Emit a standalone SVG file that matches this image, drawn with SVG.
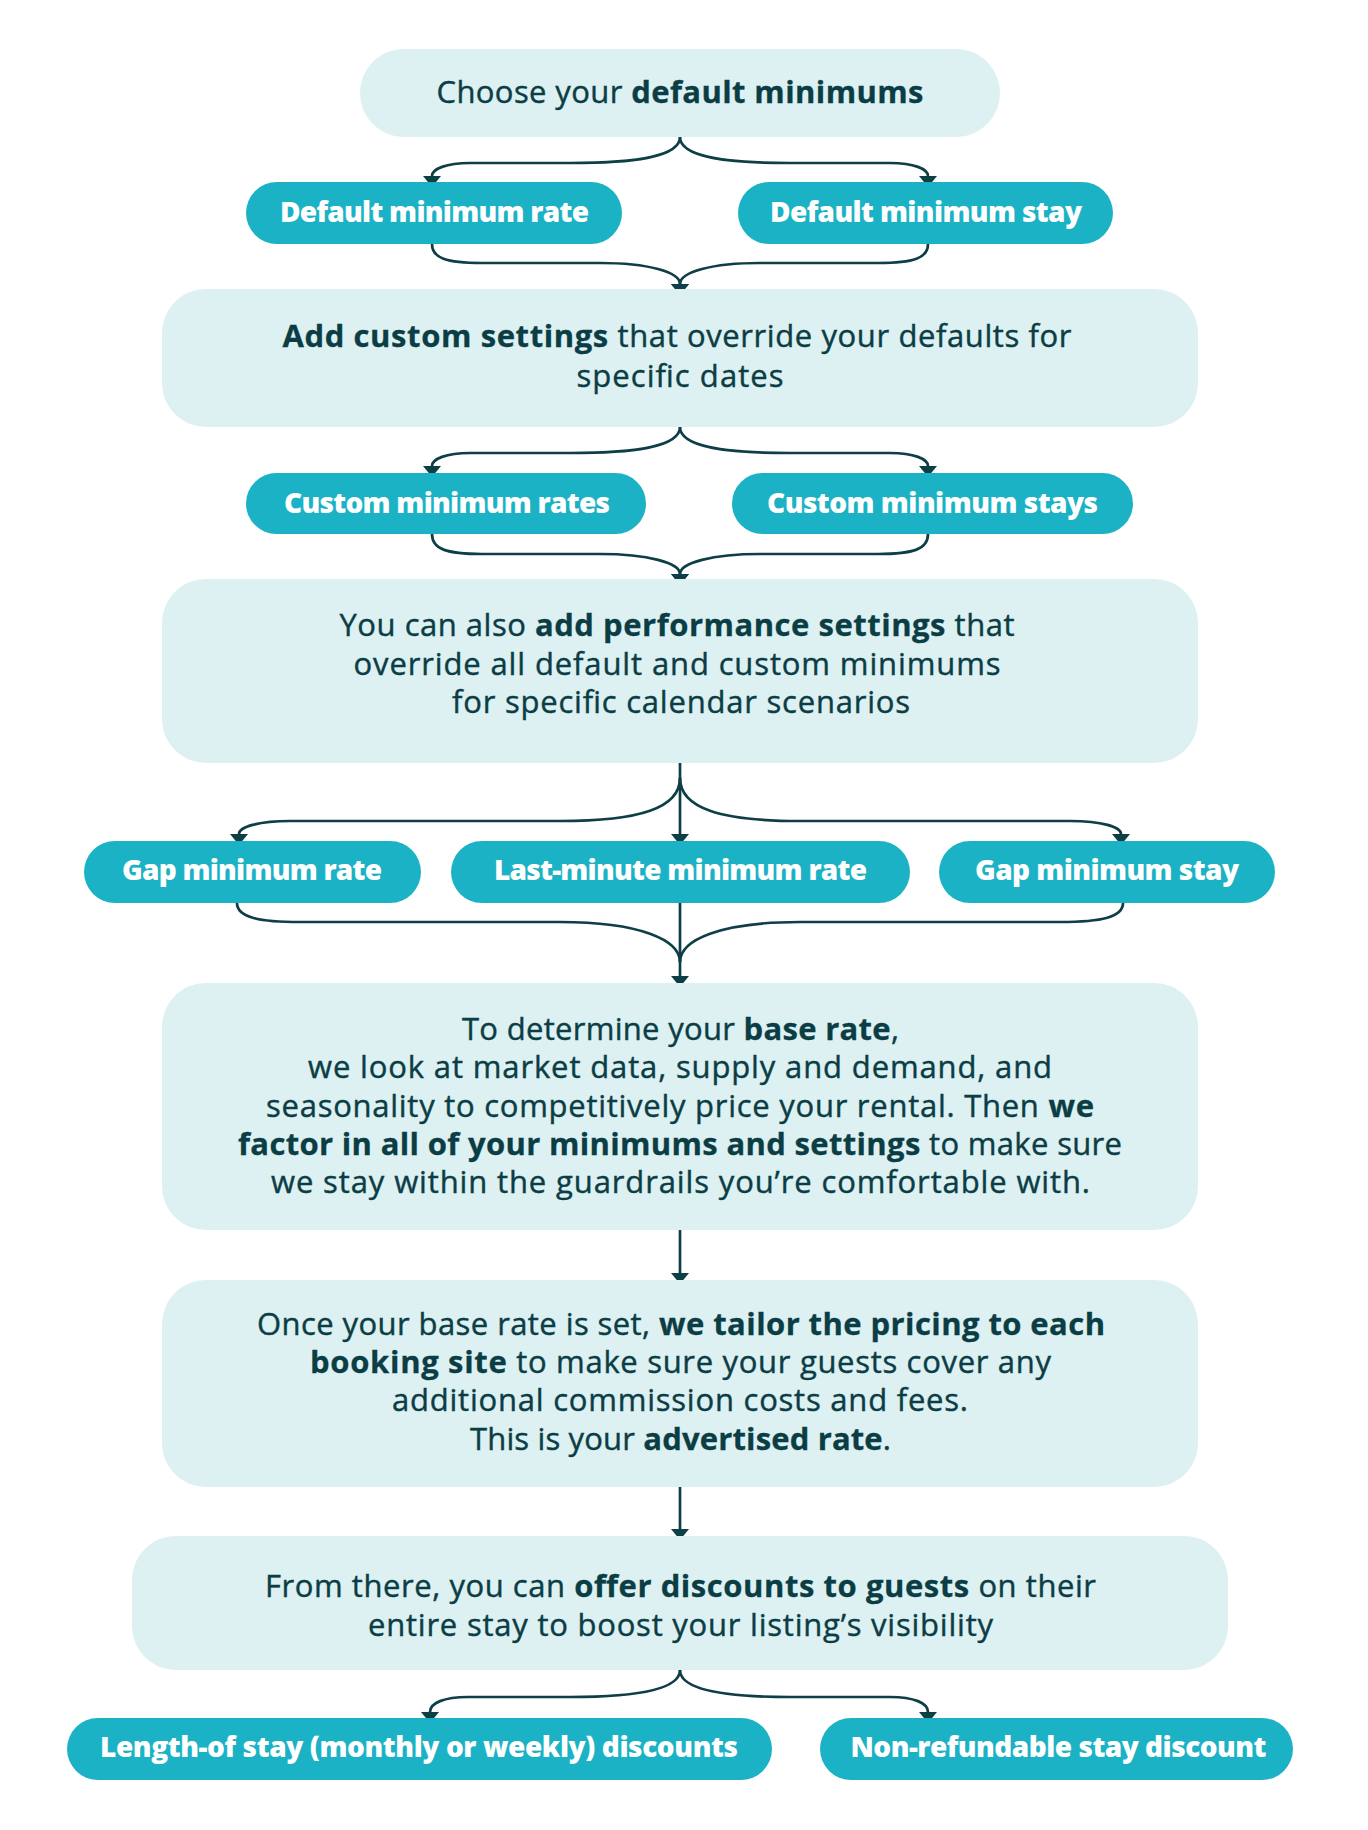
<svg xmlns="http://www.w3.org/2000/svg" width="1368" height="1830" viewBox="0 0 1368 1830">
<style>
.box{fill:#ddf0f2}
.pill{fill:#1cb2c5}
.bt{font-family:"Open Sans","Liberation Sans",sans-serif;font-size:31px;font-weight:500;fill:#0b3d45;stroke:#0b3d45;stroke-width:0.4;text-anchor:middle}
.b{font-weight:700;stroke-width:0.3}
.pt{font-family:"Open Sans","Liberation Sans",sans-serif;font-size:28px;font-weight:800;fill:#ffffff;text-anchor:middle}
.c{fill:none;stroke:#0e3f47;stroke-width:2.7}
</style>
<defs>
<marker id="ah" viewBox="0 0 11 18" refX="0" refY="9" markerUnits="userSpaceOnUse" markerWidth="11" markerHeight="18" orient="auto">
<path d="M0,0 L11,9 L0,18 Z" fill="#0e3f47"/>
</marker>
</defs>
<rect width="1368" height="1830" fill="#ffffff"/>
<g id="connectors">
<path class="c" marker-end="url(#ah)" d="M680,137 C680,158 630,163 570,163 L470,163 C446,163 432,169 432,176"/>
<path class="c" marker-end="url(#ah)" d="M680,137 C680,158 730,163 790,163 L890,163 C914,163 928,169 928,176"/>
<path class="c" marker-end="url(#ah)" d="M432,244 C432,258 446,263 482,263 L600,263 C648,263 680,272 680,284"/>
<path class="c" marker-end="url(#ah)" d="M928,244 C928,258 914,263 878,263 L760,263 C712,263 680,272 680,284"/>
<path class="c" marker-end="url(#ah)" d="M680,427 C680,448 630,453 570,453 L470,453 C446,453 432,459 432,466"/>
<path class="c" marker-end="url(#ah)" d="M680,427 C680,448 730,453 790,453 L890,453 C914,453 928,459 928,466"/>
<path class="c" marker-end="url(#ah)" d="M432,534 C432,549 446,554 482,554 L600,554 C648,554 680,563 680,574"/>
<path class="c" marker-end="url(#ah)" d="M928,534 C928,549 914,554 878,554 L760,554 C712,554 680,563 680,574"/>
<path class="c" marker-end="url(#ah)" d="M680,763 L680,834"/>
<path class="c" marker-end="url(#ah)" d="M680,778 C680,808 640,821 560,821 L290,821 C258,821 239,827 239,834"/>
<path class="c" marker-end="url(#ah)" d="M680,778 C680,808 720,821 800,821 L1070,821 C1102,821 1121,827 1121,834"/>
<path class="c" marker-end="url(#ah)" d="M680,903 L680,976"/>
<path class="c" d="M237,903 C237,917 258,922 300,922 L560,922 C640,922 680,940 680,962"/>
<path class="c" d="M1123,903 C1123,917 1102,922 1060,922 L800,922 C720,922 680,940 680,962"/>
<path class="c" marker-end="url(#ah)" d="M680,1230 L680,1273"/>
<path class="c" marker-end="url(#ah)" d="M680,1487 L680,1529"/>
<path class="c" marker-end="url(#ah)" d="M680,1670 C680,1691 630,1697 570,1697 L468,1697 C444,1697 430,1703 430,1712"/>
<path class="c" marker-end="url(#ah)" d="M680,1670 C680,1691 730,1697 790,1697 L890,1697 C914,1697 928,1703 928,1712"/>
</g>
<g id="n-default">
<rect class="box" x="360" y="49" width="640" height="88" rx="44"/>
<text class="bt" x="680" y="103" textLength="487">Choose your <tspan class="b">default minimums</tspan></text>
</g>
<g id="n-default-rate">
<rect class="pill" x="246" y="182" width="376" height="62" rx="31"/>
<text class="pt" x="434.5" y="222" textLength="309">Default minimum rate</text>
</g>
<g id="n-default-stay">
<rect class="pill" x="738" y="182" width="375" height="62" rx="31"/>
<text class="pt" x="926" y="222" textLength="312">Default minimum stay</text>
</g>
<g id="n-custom">
<rect class="box" x="162" y="289" width="1036" height="138" rx="44"/>
<text class="bt" x="677" y="347" textLength="789"><tspan class="b">Add custom settings</tspan> that override your defaults for</text>
<text class="bt" x="680" y="387" textLength="207">specific dates</text>
</g>
<g id="n-custom-rates">
<rect class="pill" x="246" y="473" width="400" height="61" rx="30.5"/>
<text class="pt" x="447" y="513" textLength="326">Custom minimum rates</text>
</g>
<g id="n-custom-stays">
<rect class="pill" x="732" y="473" width="401" height="61" rx="30.5"/>
<text class="pt" x="932.5" y="513" textLength="331">Custom minimum stays</text>
</g>
<g id="n-performance">
<rect class="box" x="162" y="579" width="1036" height="184" rx="44"/>
<text class="bt" x="677" y="636" textLength="675">You can also <tspan class="b">add performance settings</tspan> that</text>
<text class="bt" x="677" y="675" textLength="647">override all default and custom minimums</text>
<text class="bt" x="681" y="713" textLength="458">for specific calendar scenarios</text>
</g>
<g id="n-gap-rate">
<rect class="pill" x="84" y="841" width="337" height="62" rx="31"/>
<text class="pt" x="252" y="880" textLength="260">Gap minimum rate</text>
</g>
<g id="n-last-minute">
<rect class="pill" x="451" y="841" width="459" height="62" rx="31"/>
<text class="pt" x="680.5" y="880" textLength="373">Last-minute minimum rate</text>
</g>
<g id="n-gap-stay">
<rect class="pill" x="939" y="841" width="336" height="62" rx="31"/>
<text class="pt" x="1107" y="880" textLength="264">Gap minimum stay</text>
</g>
<g id="n-base-rate">
<rect class="box" x="162" y="983" width="1036" height="247" rx="44"/>
<text class="bt" x="680.5" y="1040" textLength="437">To determine your <tspan class="b">base rate</tspan>,</text>
<text class="bt" x="680" y="1078" textLength="744">we look at market data, supply and demand, and</text>
<text class="bt" x="680" y="1117" textLength="828">seasonality to competitively price your rental. Then <tspan class="b">we</tspan></text>
<text class="bt" x="680" y="1155" textLength="884"><tspan class="b">factor in all of your minimums and settings</tspan> to make sure</text>
<text class="bt" x="680.5" y="1193" textLength="819">we stay within the guardrails you’re comfortable with.</text>
</g>
<g id="n-advertised">
<rect class="box" x="162" y="1280" width="1036" height="207" rx="44"/>
<text class="bt" x="681" y="1335" textLength="848">Once your base rate is set, <tspan class="b">we tailor the pricing to each</tspan></text>
<text class="bt" x="680.5" y="1373" textLength="741"><tspan class="b">booking site</tspan> to make sure your guests cover any</text>
<text class="bt" x="680" y="1411" textLength="576">additional commission costs and fees.</text>
<text class="bt" x="680.5" y="1450" textLength="421">This is your <tspan class="b">advertised rate</tspan>.</text>
</g>
<g id="n-discounts">
<rect class="box" x="132" y="1536" width="1096" height="134" rx="44"/>
<text class="bt" x="680.5" y="1597" textLength="831">From there, you can <tspan class="b">offer discounts to guests</tspan> on their</text>
<text class="bt" x="680.5" y="1636" textLength="625">entire stay to boost your listing’s visibility</text>
</g>
<g id="n-length-of-stay">
<rect class="pill" x="67" y="1718" width="705" height="62" rx="31"/>
<text class="pt" x="419" y="1757" textLength="638">Length-of stay (monthly or weekly) discounts</text>
</g>
<g id="n-non-refundable">
<rect class="pill" x="820" y="1718" width="473" height="62" rx="31"/>
<text class="pt" x="1058.5" y="1757" textLength="416">Non-refundable stay discount</text>
</g>
</svg>
